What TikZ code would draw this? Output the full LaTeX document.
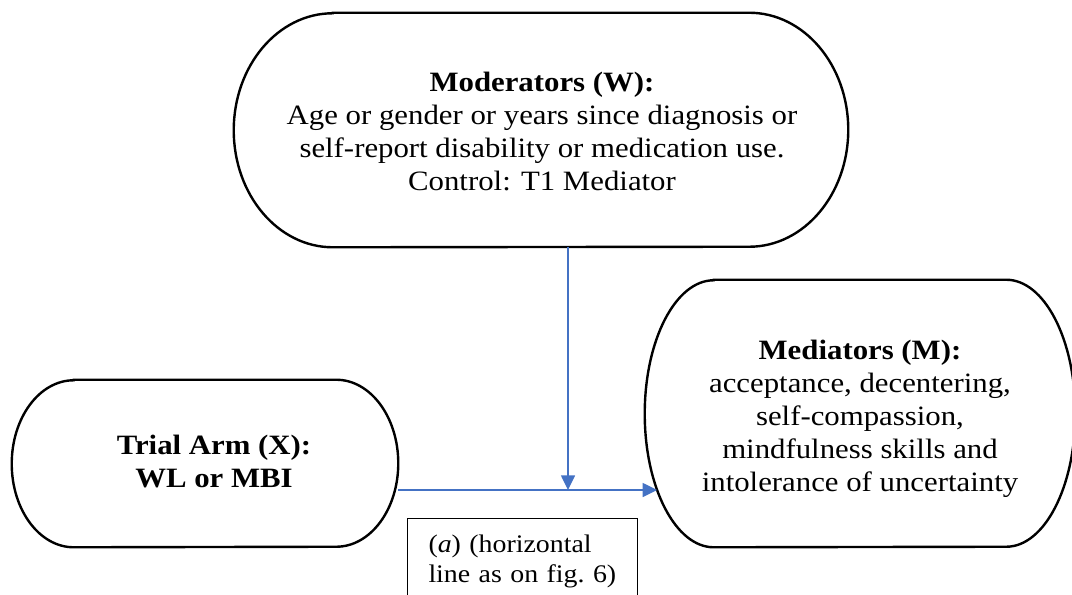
\documentclass[tikz,border=0pt]{standalone}
\usepackage{fontspec}
\setmainfont{Liberation Serif}[FakeStretch=1.1]
\usetikzlibrary{arrows.meta}
\definecolor{lnblue}{HTML}{4472C4}
\tikzset{
  frame/.style={inner sep=0pt},
  border/.style={draw=black, line width=1.8pt},
  body/.style={font=\fontsize{21}{24.75}\selectfont, align=center, inner sep=0pt},
  link/.style={draw=lnblue, line width=1.1pt, -{Triangle[length=11pt,width=10.5pt]}},
  notebox/.style={draw=black, line width=0.75pt, anchor=north west, align=left,
    font=\fontsize{19}{22.5}\selectfont\frenchspacing, inner xsep=15.75pt, inner ysep=12pt,
    text width=141pt}
}
% terminator outline around a node: #1 node, #2 x radius, #3 y radius
\newcommand\termshape[3]{%
  \draw[border] ([xshift=#2]#1.north west) -- ([xshift=-#2]#1.north east)
    arc[start angle=90, end angle=-90, x radius=#2, y radius=#3]
    -- ([xshift=#2]#1.south west)
    arc[start angle=270, end angle=90, x radius=#2, y radius=#3] -- cycle;}
\begin{document}
\begin{tikzpicture}[x=0.75pt,y=-0.75pt]
\clip (0,0) rectangle (1072,594);
% shapes
\node[frame, minimum width=460.5pt, minimum height=175.5pt] (mod) at (541,130) {};
\node[frame, minimum width=289.5pt, minimum height=125.25pt] (trial) at (205,463.5) {};
\node[frame, minimum width=322.5pt, minimum height=200.25pt] (med) at (860,413.5) {};
\termshape{mod}{74.25pt}{87.75pt}
\termshape{trial}{46.5pt}{62.625pt}
\termshape{med}{51.75pt}{100.125pt}
% texts
\node[body] (modtxt) at (542,131) {\textbf{Moderators (W):}\\Age or gender or years since diagnosis or\\self-report disability or medication use.\\Control: T1 Mediator};
\node[body] (trialtxt) at (214,461.5) {\textbf{Trial Arm (X):}\\\textbf{WL or MBI}};
\begin{scope}
\clip (600,300) rectangle (1072,496);
\node[body] (medtxt) at (860,419) {\textbf{Mediators (M):}\\acceptance, decentering,\\self-compassion,\\mindfulness skills and\\intolerance of uncertainty};
\end{scope}
\node[notebox] (note) at (407,518) {\mbox{(\textit{a}) (horizontal}\\\mbox{line as on fig. 6)}};
% connectors
\coordinate (j) at (568,490);
\draw[link] (mod.south -| j) -- (j);
\draw[link, shorten >=-9.4pt] (trial.east |- j) -- (med.west |- j);
\end{tikzpicture}
\end{document}
